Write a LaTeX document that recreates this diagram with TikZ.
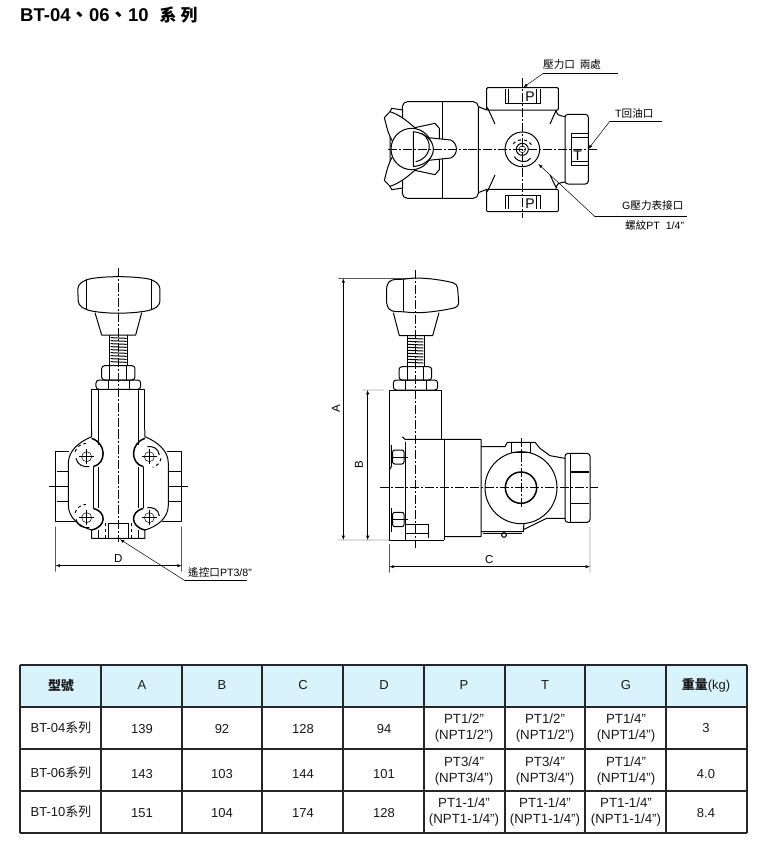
\documentclass[tikz,border=0pt]{standalone}
\usepackage{fontspec}
\usepackage{tikz}
\setmainfont{Liberation Sans}
\newfontfamily\cjk{Noto Sans CJK TC}
\tikzset{
  part/.style={black, line width=1pt, line join=round},
  heavypart/.style={black, line width=1.5pt, line join=round},
  thinpart/.style={black, line width=0.5pt},
  centerline/.style={black, line width=0.5pt, dash pattern=on 9pt off 2pt on 2pt off 2pt},
  dimline/.style={black, line width=0.5pt, latex-latex},
  extline/.style={black, line width=0.4pt},
  leader/.style={black, line width=0.5pt},
  callout/.style={inner sep=0pt, font=\fontsize{10.6}{12}\selectfont},
  dimlabel/.style={inner sep=0pt, font=\fontsize{11.5}{13}\selectfont},
  portlabel/.style={inner sep=0pt, font=\fontsize{14}{15}\selectfont},
  cell/.style={inner sep=0pt, align=center, text=black!90, font=\fontsize{13}{16}\selectfont},
  smallcell/.style={cell, font=\fontsize{13.3}{16}\selectfont}
}
\begin{document}
\begin{tikzpicture}[x=1pt, y=-1pt]
  \useasboundingbox (0,0) rectangle (760,855);
  \fill [white] (0,0) rectangle (760,855);
  \node [anchor=west, inner sep=0pt, font=\fontsize{18.5}{20}\selectfont\bfseries] (title) at (20,15) {BT-04{\cjk 、}06{\cjk 、}10\hspace{11pt}{\cjk\fontsize{17}{20}\selectfont 系\hspace{4pt}列}};

  % top view
  \begin{scope}[shift={(370,50)}, scale=1/3]
    \draw [part, rounded corners=5pt] (97,155) rectangle (325,445);
    \draw [part] (217,155) -- (217,445);
    \draw [part, rounded corners=1pt] (350,113) rectangle (565,180);
    \draw [part, rounded corners=1pt] (350,418) rectangle (565,485);
    \draw [part, rounded corners=3pt] (585,193) rectangle (655,402);
    \draw [part] (325,170) -- (350,180);
    \draw [part] (325,428) -- (350,418);
    \draw [part] (558,180) .. controls (562,195) .. (585,200);
    \draw [part] (558,416) .. controls (562,400) .. (585,396);
    \draw [part] (352,172) -- (375,222);
    \draw [part] (352,425) -- (375,375);
    \draw [part] (558,182) -- (540,222);
    \draw [part] (558,412) -- (540,375);
    \draw [thinpart] (405,118) -- (405,160) -- (510,160) -- (510,118);
    \draw [thinpart] (415,118) -- (415,160);
    \draw [thinpart] (500,118) -- (500,160);
    \draw [thinpart] (405,478) -- (405,437) -- (510,437) -- (510,478);
    \draw [thinpart] (415,437) -- (415,478);
    \draw [thinpart] (500,437) -- (500,478);
    \draw [thinpart] (655,250) -- (605,250) -- (605,345) -- (655,345);
    \draw [thinpart] (605,262) -- (655,262);
    \draw [thinpart] (605,333) -- (655,333);
    \draw [part] (457,298) circle (52);
    \draw [part] (457,298) circle (18);
    \draw [thinpart] (457,298) circle (10);
    \draw [part] (433,320) .. controls (445,338) and (470,340) .. (482,325);
    \draw [part, dashed] (430,282) .. controls (438,268) and (470,262) .. (485,285);
    % axes
    \draw [centerline] (457,85) -- (457,505);
    \node [portlabel] (portPtop) at (480,140) {P};
    \node [portlabel] (portPbot) at (480,461) {P};
    \node [portlabel] (portT) at (623,318) {T};
    \coordinate (pEnd) at (460,112);
    \coordinate (pKnee) at (520,70);
    \coordinate (pTail) at (745,70);
    \coordinate (tEnd) at (655,297);
    \coordinate (tKnee) at (720,213);
    \coordinate (tTail) at (877,213);
    \coordinate (gEnd) at (505,342);
    \coordinate (gKnee) at (675,500);
    \coordinate (gTail) at (950,500);
    \draw [leader, -latex] (pKnee) -- (pEnd);
    \draw [leader] (pKnee) -- (pTail);
    \draw [leader, -latex] (tKnee) -- (tEnd);
    \draw [leader] (tKnee) -- (tTail);
    \draw [leader, -latex] (gKnee) -- (gEnd);
    \draw [leader] (gKnee) -- (gTail);
  \end{scope}
  % handle of top view
  \begin{scope}[shift={(380,95)}, scale=1/3]
    \draw [part, fill=white] (30,50) -- (35,40) -- (68,45) -- (68,279) -- (35,284) -- (30,274) -- cycle;
    \draw [part, fill=white] (95,100) -- (165,85) -- (178,100) -- (178,224) -- (165,239) -- (95,224) -- cycle;
    \draw [part, fill=white] (13,68) -- (30,50) .. controls (60,60) and (85,80) .. (112,105) -- (60,150) -- (38,140) .. controls (25,115) .. cycle;
    \draw [part, fill=white] (13,256) -- (30,274) .. controls (60,264) and (85,244) .. (112,219) -- (60,174) -- (38,184) .. controls (25,209) .. cycle;
    \draw [part, fill=white] (145,128) -- (212,135) .. controls (235,145) and (235,180) .. (212,189) -- (145,196) -- cycle;
    \draw [part, fill=white] (95,162) circle (62);
    \draw [part, fill=white] (100,110) -- (100,215) .. controls (180,205) and (180,120) .. (100,110);
    \draw [part] (107,200) .. controls (155,190) and (160,135) .. (125,115);
    \draw [centerline] (25,162) -- (262,162);
  \end{scope}
  \draw [centerline] (468,149) -- (597,149);
  \node [callout, anchor=west] (pLabel) at (543,64) {{\cjk 壓力口\ \ 兩處}};
  \node [callout, anchor=west] (tLabel) at (615,113) {T{\cjk 回油口}};
  \node [callout, anchor=west] (gLabel) at (622,205) {G{\cjk 壓力表接口}};
  \node [callout, anchor=west] (threadLabel) at (625,225) {{\cjk 螺紋}PT\ \ 1/4"};

  % front view
  \begin{scope}[shift={(40,270)}, scale=1/3]
    \draw [part, rounded corners=4pt] (113,45) -- (140,28) .. controls (200,18) and (270,18) .. (335,28) -- (360,45) -- (360,105) -- (335,120) .. controls (270,132) and (200,132) .. (140,120) -- (115,105) -- cycle;
    \draw [part] (140,28) -- (140,120);
    \draw [part] (335,28) -- (335,120);
    \draw [part] (165,128) -- (185,195) -- (287,195) -- (305,128);
    \draw [part] (210,195) -- (210,287);
    \draw [part] (262,195) -- (262,287);
    \foreach \ty in {203,212,...,280}
      \draw [part] (212,\ty) -- (260,\ty+2);
    \draw [part, rounded corners=3pt] (185,287) rectangle (285,330);
    \draw [part] (210,287) -- (210,330);
    \draw [part] (260,287) -- (260,330);
    \draw [part, rounded corners=3pt] (168,330) rectangle (302,358);
    \draw [part] (205,330) -- (205,358);
    \draw [part] (268,330) -- (268,358);
    \draw [part] (155,480) -- (155,358) -- (315,358) -- (315,480);
    \draw [part] (175,358) -- (175,480);
    \draw [part] (295,358) -- (295,480);
    % side ports
    \draw [part] (88,545) -- (47,545) -- (47,755) -- (105,755);
    \draw [part] (380,545) -- (425,545) -- (425,755) -- (365,755);
    \draw [black, line width=1.4pt] (50,605) -- (88,605);
    \draw [black, line width=1.4pt] (50,695) -- (88,695);
    \draw [black, line width=1.4pt] (388,605) -- (425,605);
    \draw [black, line width=1.4pt] (388,695) -- (425,695);
    \draw [thinpart] (28,650) -- (105,650);
    \draw [thinpart] (368,650) -- (445,650);
    \draw [centerline] (235,-5) -- (235,480);
    % size D
    \coordinate (dLeft) at (47,887);
    \coordinate (dRight) at (425,887);
    \draw [extline] (47,770) -- (dLeft) -- (47,905);
    \draw [extline] (425,770) -- (dRight) -- (425,905);
    \draw [dimline] (dLeft) -- (dRight);
    \node [dimlabel] (dLabel) at (235,865) {D};
    \coordinate (remoteEnd) at (240,808);
    \coordinate (remoteKnee) at (435,932);
    \coordinate (remoteTail) at (622,932);
    \draw [leader, -latex] (remoteKnee) -- (remoteEnd);
    \draw [leader] (remoteKnee) -- (remoteTail);
  \end{scope}
  % plate of front view
  \begin{scope}[shift={(60,430)}, scale=1/3]
    \draw [part, fill=white] (95,0) -- (95,20) .. controls (60,35) and (25,60) .. (25,100) -- (25,225) .. controls (25,265) and (60,290) .. (95,300) -- (95,325) -- (255,325) -- (255,300) .. controls (290,290) and (325,265) .. (325,225) -- (325,100) .. controls (325,60) and (290,35) .. (255,20) -- (255,0);
    \draw [centerline] (175,0) -- (175,335);
    \foreach \lx in {115,235} {
      \draw [part] (\lx,0) -- (\lx,45);
      \draw [part] (\lx,110) -- (\lx,235);
      \draw [part] (\lx,300) -- (\lx,325);
    }
    \draw [part] (100,110) -- (100,235);
    \draw [part] (250,110) -- (250,235);
    \draw [heavypart] (95,25) .. controls (140,40) and (140,100) .. (100,110);
    \draw [heavypart] (100,235) .. controls (140,245) and (140,290) .. (95,300);
    \draw [heavypart] (255,25) .. controls (210,40) and (210,100) .. (250,110);
    \draw [heavypart] (250,235) .. controls (210,245) and (210,290) .. (255,300);
    \foreach \bx/\by in {80/80, 80/263, 268/80, 268/263} {
      \draw [thinpart] (\bx,\by) circle (15);
      \draw [thinpart] (\bx-22,\by) -- (\bx+22,\by);
      \draw [thinpart] (\bx,\by-22) -- (\bx,\by+22);
    }
    \draw [part] (48,85) .. controls (52,105) and (70,112) .. (88,110);
    \draw [part] (48,268) .. controls (52,288) and (70,295) .. (88,293);
    \draw [part] (298,75) .. controls (295,55) and (280,48) .. (262,50);
    \draw [part] (298,258) .. controls (295,238) and (280,231) .. (262,233);
    \draw [part, dashed] (45,65) .. controls (50,50) and (62,42) .. (78,40);
    \draw [part, dashed] (45,248) .. controls (50,233) and (62,225) .. (78,223);
    \draw [part, dashed] (303,85) .. controls (300,100) and (290,108) .. (278,112);
    \draw [part] (145,280) -- (205,280);
    \draw [thinpart] (145,280) -- (145,325);
    \draw [thinpart] (205,280) -- (205,325);
    \draw [part, dashed] (135,280) -- (135,325);
    \draw [part, dashed] (215,280) -- (215,325);
  \end{scope}
  \node [callout, anchor=west] (remoteLabel) at (188,572) {{\cjk 遙控口}PT3/8"};

  % side view
  \begin{scope}[shift={(320,270)}, scale=1/3]
    \draw [part, rounded corners=4pt] (200,42) -- (215,28) -- (252,28) .. controls (300,20) and (370,30) .. (412,42) -- (417,110) .. controls (370,122) and (300,132) .. (252,125) -- (215,125) -- (200,110) -- cycle;
    \draw [part] (250,28) -- (250,125);
    \draw [part] (220,128) -- (238,197) -- (338,197) -- (357,128);
    \draw [part] (262,197) -- (262,287);
    \draw [part] (312,197) -- (312,287);
    \foreach \ty in {205,214,...,280}
      \draw [part] (264,\ty) -- (310,\ty+2);
    \draw [part, rounded corners=3pt] (237,290) rectangle (335,330);
    \draw [part] (262,290) -- (262,330);
    \draw [part] (310,290) -- (310,330);
    \draw [part, rounded corners=3pt] (220,330) rectangle (353,360);
    \draw [part] (255,330) -- (255,360);
    \draw [part] (320,330) -- (320,360);
    \draw [part] (365,508) -- (365,360) -- (208,360) -- (208,810) -- (372,810);
    \draw [part] (255,515) -- (255,810);
    \draw [part] (247,500) -- (255,508) -- (483,508) -- (483,800) -- (372,800);
    \draw [part] (372,508) -- (372,810);
    \draw [part] (214,525) -- (214,590) -- (208,600);
    \draw [part] (214,715) -- (214,785);
    \draw [part, rounded corners=2pt] (218,540) rectangle (252,582);
    \draw [part, rounded corners=2pt] (218,727) rectangle (252,770);
    \draw [thinpart] (218,562) -- (265,562);
    \draw [thinpart] (218,748) -- (265,748);
    \draw [part] (255,762) -- (325,762) -- (325,805);
    \draw [part] (255,790) -- (325,790);
    % main block
    \draw [part] (603,653) circle (108);
    \draw [heavypart] (603,653) circle (47);
    \draw [part] (483,530) -- (555,530) -- (562,517) -- (645,517) -- (660,535) -- (690,557) -- (735,565);
    \draw [part] (575,517) -- (575,548);
    \draw [part] (632,517) -- (632,548);
    \draw [part] (575,547) -- (632,547);
    \draw [part] (483,785) -- (610,785) -- (612,760);
    \draw [part] (612,778) -- (680,745) -- (735,745);
    \draw [part] (490,790) -- (605,790);
    \draw [part] (552,795) circle (7);
    \draw [part, rounded corners=3pt] (735,550) rectangle (810,757);
    \draw [part] (750,550) -- (750,757);
    \draw [black, line width=1.4pt] (750,606) -- (808,606);
    \draw [black, line width=1.4pt] (750,700) -- (808,700);
    % axes
    \draw [centerline] (287,0) -- (287,835);
    \draw [centerline] (180,653) -- (835,653);
    \draw [centerline] (603,505) -- (603,710);
    % size A, B, C
    \coordinate (aTop) at (70,25);
    \coordinate (aBot) at (70,810);
    \coordinate (bTop) at (143,360);
    \coordinate (bBot) at (143,810);
    \coordinate (cLeft) at (208,890);
    \coordinate (cRight) at (810,890);
    \draw [extline] (55,25) -- (aTop) -- (280,25);
    \draw [extline] (55,810) -- (aBot) -- (208,810);
    \draw [extline] (128,360) -- (bTop) -- (192,360);
    \draw [extline] (208,822) -- (cLeft) -- (208,908);
    \draw [extline] (810,770) -- (cRight) -- (810,908);
    \draw [dimline] (aTop) -- (aBot);
    \draw [dimline] (bTop) -- (bBot);
    \draw [dimline] (cLeft) -- (cRight);
    \node [dimlabel, rotate=90] (aLabel) at (48,415) {A};
    \node [dimlabel, rotate=90] (bLabel) at (117,585) {B};
    \node [dimlabel] (cLabel) at (508,868) {C};
  \end{scope}

  % table
  \fill [cyan!15!white] (20,665) rectangle (747,707);
  \foreach \cx in {20,101,182,262,343,424,505,585,666,747}
    \draw [black!85, line width=1.1pt] (\cx,665) -- (\cx,833);
  \foreach \cy in {665,707,749,791,833}
    \draw [black!85, line width=1.1pt] (20,\cy) -- (747,\cy);
  \node [cell, font=\fontsize{13}{16}\selectfont\cjk\bfseries] (hModel) at (61,686) {型號};
  \node [cell] (hA) at (142,685) {A};
  \node [cell] (hB) at (222,685) {B};
  \node [cell] (hC) at (303,685) {C};
  \node [cell] (hD) at (384,685) {D};
  \node [cell] (hP) at (464,685) {P};
  \node [cell] (hT) at (545,685) {T};
  \node [cell] (hG) at (626,685) {G};
  \node [cell] (hWeight) at (706,685) {{\cjk\bfseries 重量}(kg)};

  \node [cell] (mOne) at (61,728) {BT-04{\cjk 系列}};
  \node [cell] (aOne) at (142,729) {139};
  \node [cell] (bOne) at (222,729) {92};
  \node [cell] (cOne) at (303,729) {128};
  \node [cell] (dOne) at (384,729) {94};
  \node [smallcell] (pOne) at (464,728) {PT1/2"\\(NPT1/2")};
  \node [smallcell] (tOne) at (545,728) {PT1/2"\\(NPT1/2")};
  \node [smallcell] (gOne) at (626,728) {PT1/4"\\(NPT1/4")};
  \node [cell] (wOne) at (706,728) {3};

  \node [cell] (mTwo) at (61,773) {BT-06{\cjk 系列}};
  \node [cell] (aTwo) at (142,774) {143};
  \node [cell] (bTwo) at (222,774) {103};
  \node [cell] (cTwo) at (303,774) {144};
  \node [cell] (dTwo) at (384,774) {101};
  \node [smallcell] (pTwo) at (464,771) {PT3/4"\\(NPT3/4")};
  \node [smallcell] (tTwo) at (545,771) {PT3/4"\\(NPT3/4")};
  \node [smallcell] (gTwo) at (626,771) {PT1/4"\\(NPT1/4")};
  \node [cell] (wTwo) at (706,774) {4.0};

  \node [cell] (mThree) at (61,812) {BT-10{\cjk 系列}};
  \node [cell] (aThree) at (142,813) {151};
  \node [cell] (bThree) at (222,813) {104};
  \node [cell] (cThree) at (303,813) {174};
  \node [cell] (dThree) at (384,813) {128};
  \node [smallcell] (pThree) at (464,812) {PT1-1/4"\\(NPT1-1/4")};
  \node [smallcell] (tThree) at (545,812) {PT1-1/4"\\(NPT1-1/4")};
  \node [smallcell] (gThree) at (626,812) {PT1-1/4"\\(NPT1-1/4")};
  \node [cell] (wThree) at (706,813) {8.4};
\end{tikzpicture}
\end{document}
